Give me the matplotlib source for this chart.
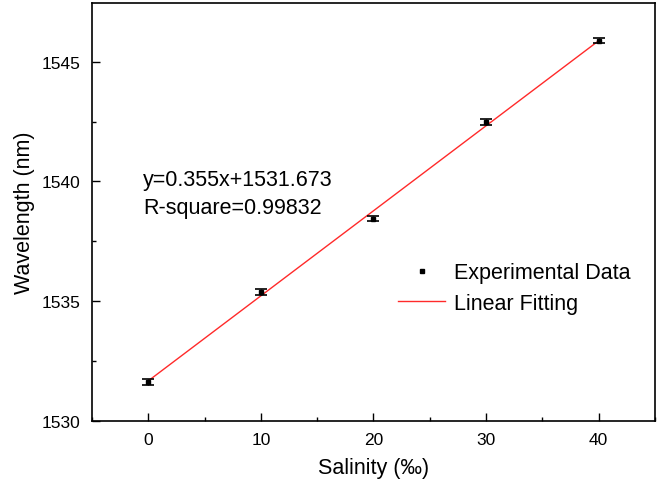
import numpy as np
import matplotlib
matplotlib.use("Agg")
import matplotlib.pyplot as plt
from matplotlib.ticker import MultipleLocator

plt.rcParams['font.family'] = ['Liberation Sans', 'DejaVu Sans']

salinity = [0, 10, 20, 30, 40]
wavelength = [1531.63, 1535.38, 1538.45, 1542.48, 1545.88]
wavelength_err = [0.12, 0.12, 0.12, 0.12, 0.12]
slope = 0.355
intercept = 1531.673
r_square = 0.99832

fig = plt.figure(figsize=(6.61, 4.89), dpi=100)
ax = fig.add_axes([0.139, 0.137, 0.852, 0.855])

xfit = np.array([salinity[0], salinity[-1]])
fit_line, = ax.plot(xfit, slope * xfit + intercept, color='#ff2a2a', lw=1.0,
                    zorder=2)
eb = ax.errorbar(salinity, wavelength, yerr=wavelength_err, fmt='s', ms=3.5,
                 color='black', ecolor='black', elinewidth=1.0, capsize=4,
                 capthick=1.2, zorder=3)

ax.set_xlim(-5, 45)
ax.set_ylim(1530, 1547.45)
ax.xaxis.set_major_locator(MultipleLocator(10))
ax.xaxis.set_minor_locator(MultipleLocator(5))
ax.yaxis.set_major_locator(MultipleLocator(5))
ax.yaxis.set_minor_locator(MultipleLocator(2.5))
ax.tick_params(which='both', direction='in', top=False, right=False,
               labelsize=12.5, width=1.0, pad=8)
ax.tick_params(which='major', length=6)
ax.tick_params(which='minor', length=3)
for s in ax.spines.values():
    s.set_linewidth(1.2)

ax.set_xlabel('Salinity (‰)', fontsize=15.5, labelpad=7)
ax.set_ylabel('Wavelength (nm)', fontsize=15.5, labelpad=5)

ax.text(-0.45, 1539.5, f'y={slope}x+{intercept}\nR-square={r_square}',
        fontsize=15.5, va='center', ha='left', linespacing=1.4)

ax.legend([eb[0], fit_line], ['Experimental Data', 'Linear Fitting'],
          loc='upper left', bbox_to_anchor=(0.5435, 0.38), frameon=False,
          fontsize=15.5, handlelength=2.2, handletextpad=0.4,
          labelspacing=0.45, borderpad=0, borderaxespad=0)

fig.savefig('out.png', dpi=100)
